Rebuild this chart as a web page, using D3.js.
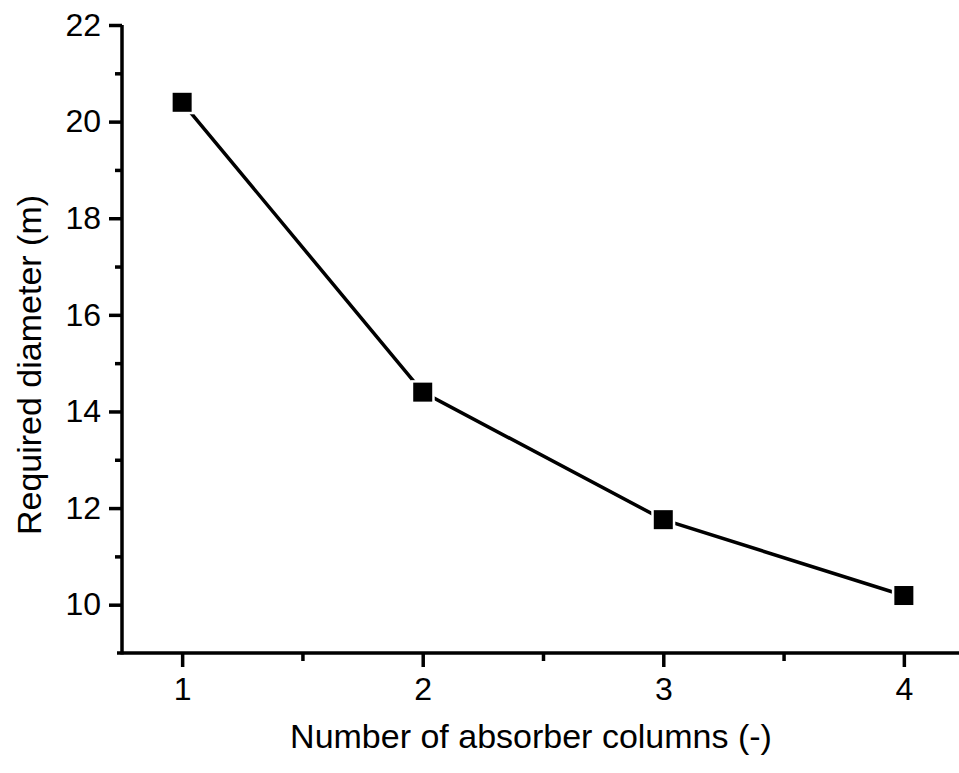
<!DOCTYPE html>
<html lang="en">
<head>
    <meta charset="utf-8">
    <title>Required diameter</title>
    <script src="https://cdn.jsdelivr.net/npm/d3@7/dist/d3.min.js"></script>
    <style>
        body { margin: 0; background: #fff; }
        text { font-family: "Liberation Sans", Arial, sans-serif; fill: #000; }
    </style>
</head>
<body>
<div id="chart"></div>
<script>
    // data
    var columns = [1, 2, 3, 4];
    var diameter = [20.4, 14.4, 11.76, 10.19];
    var xTicks = [1, 2, 3, 4];
    var yTicks = [10, 12, 14, 16, 18, 20, 22];

    var width = 959,
        height = 773;

    var svg = d3.select('#chart').append('svg')
        .attr('width', width)
        .attr('height', height);

    var x = d3.scaleLinear().domain([0.75, 4.25]).range([122, 964]);
    var y = d3.scaleLinear().domain([9, 22]).range([653, 25]);

    // y axis
    var yAxis = svg.append('g')
        .attr('transform', 'translate(122,0)')
        .call(d3.axisLeft(y).tickValues(yTicks).tickFormat(d3.format('d'))
            .tickSize(13).tickPadding(8).tickSizeOuter(0));

    svg.append('g')
        .attr('transform', 'translate(122,0)')
        .call(d3.axisLeft(y).tickValues([11, 13, 15, 17, 19, 21]).tickSize(7).tickFormat('').tickSizeOuter(0))
        .select('.domain').remove();

    // x axis
    var xAxis = svg.append('g')
        .attr('transform', 'translate(0,653)')
        .call(d3.axisBottom(x).tickValues(xTicks).tickFormat(d3.format('d'))
            .tickSize(14).tickPadding(10).tickSizeOuter(0));

    svg.append('g')
        .attr('transform', 'translate(0,653)')
        .call(d3.axisBottom(x).tickValues([1.5, 2.5, 3.5]).tickSize(8).tickFormat('').tickSizeOuter(0))
        .select('.domain').remove();

    svg.selectAll('.domain, .tick line')
        .attr('stroke', '#000')
        .attr('stroke-width', 3.5);

    xAxis.select('.domain').attr('d', 'M117,0H' + width);
    yAxis.select('.domain').attr('d', 'M0,' + y(22) + 'V' + (y(9) + 1.5));

    svg.selectAll('.tick text')
        .attr('font-size', 32)
        .attr('font-family', '"Liberation Sans", Arial, sans-serif')
        .attr('fill', '#000');

    // line
    var line = d3.line()
        .x(function(d, i) { return x(columns[i]); })
        .y(function(d) { return y(d); });

    svg.append('path')
        .datum(diameter)
        .attr('d', line)
        .attr('fill', 'none')
        .attr('stroke', '#000')
        .attr('stroke-width', 3.5);

    // markers
    var marks = svg.selectAll('g.mark')
        .data(diameter)
        .enter()
        .append('g')
        .attr('class', 'mark')
        .attr('transform', function(d, i) { return 'translate(' + x(columns[i]) + ',' + y(d) + ')'; });

    marks.append('rect')
        .attr('x', -12).attr('y', -12)
        .attr('width', 24).attr('height', 24)
        .attr('fill', '#fff');

    marks.append('rect')
        .attr('x', -9.5).attr('y', -9.5)
        .attr('width', 19).attr('height', 19)
        .attr('fill', '#000');

    // titles
    svg.append('text')
        .attr('x', 531)
        .attr('y', 748)
        .attr('text-anchor', 'middle')
        .attr('font-size', 34)
        .text('Number of absorber columns (-)');

    svg.append('text')
        .attr('transform', 'translate(41,365) rotate(-90)')
        .attr('text-anchor', 'middle')
        .attr('font-size', 34)
        .text('Required diameter (m)');
</script>
</body>
</html>
